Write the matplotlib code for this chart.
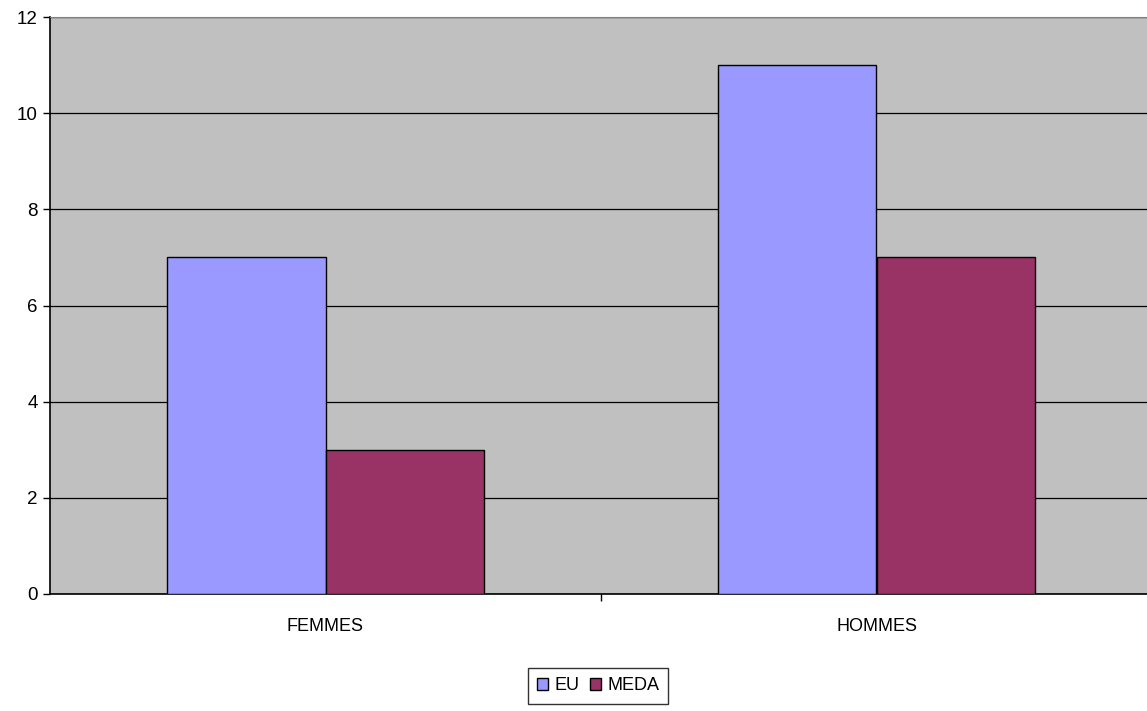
import numpy as np
import matplotlib.pyplot as plt
from matplotlib.patches import Patch

plt.rcParams['font.family'] = ['Liberation Sans', 'DejaVu Sans']

# data
categories = ["FEMMES", "HOMMES"]
eu_values = [7, 11]
meda_values = [3, 7]

eu_color = "#9999ff"
meda_color = "#993366"

fig = plt.figure(figsize=(11.47, 7.11), dpi=100)
ax = fig.add_axes([50 / 1147, 117 / 711, 1102 / 1147, 577 / 711])
ax.set_facecolor("#c0c0c0")

x = np.arange(len(categories))
w = 0.288
ax.bar(x - w / 2, eu_values, w, color=eu_color, edgecolor="black", linewidth=1, zorder=3)
ax.bar(x + w / 2, meda_values, w, color=meda_color, edgecolor="black", linewidth=1, zorder=3)

ax.set_xlim(-0.5, 1.5)
ax.set_ylim(0, 12)
ax.set_yticks(range(0, 13, 2))
ax.yaxis.grid(True, color="black", linewidth=0.9, zorder=1)
ax.set_axisbelow(True)

# category labels in the middle, tick marks between categories
ax.set_xticks([0.5])
ax.set_xticklabels([""])
ax.tick_params(axis="x", direction="out", length=5, width=1, color="black")
for xi, lab in zip(x, categories):
    ax.text(xi, -0.5, lab, ha="center", va="top", fontsize=13)

ax.tick_params(axis="y", direction="out", length=5, width=1, labelsize=13.5, pad=4)

ax.spines["top"].set_color("#808080")
ax.spines["right"].set_visible(False)
ax.spines["left"].set_linewidth(1.2)
ax.spines["bottom"].set_linewidth(1.2)

handles = [Patch(facecolor=eu_color, edgecolor="black", label="EU"),
           Patch(facecolor=meda_color, edgecolor="black", label="MEDA")]
leg = fig.legend(handles=handles, loc="center", bbox_to_anchor=(598 / 1147, 1 - 686 / 711),
                 ncol=2, frameon=True, fancybox=False, fontsize=13,
                 handlelength=0.6, handleheight=0.6, handletextpad=0.35, columnspacing=0.6,
                 borderpad=0.5)
leg.get_frame().set_edgecolor("black")
leg.get_frame().set_linewidth(1)

fig.savefig("out.png", dpi=100)
